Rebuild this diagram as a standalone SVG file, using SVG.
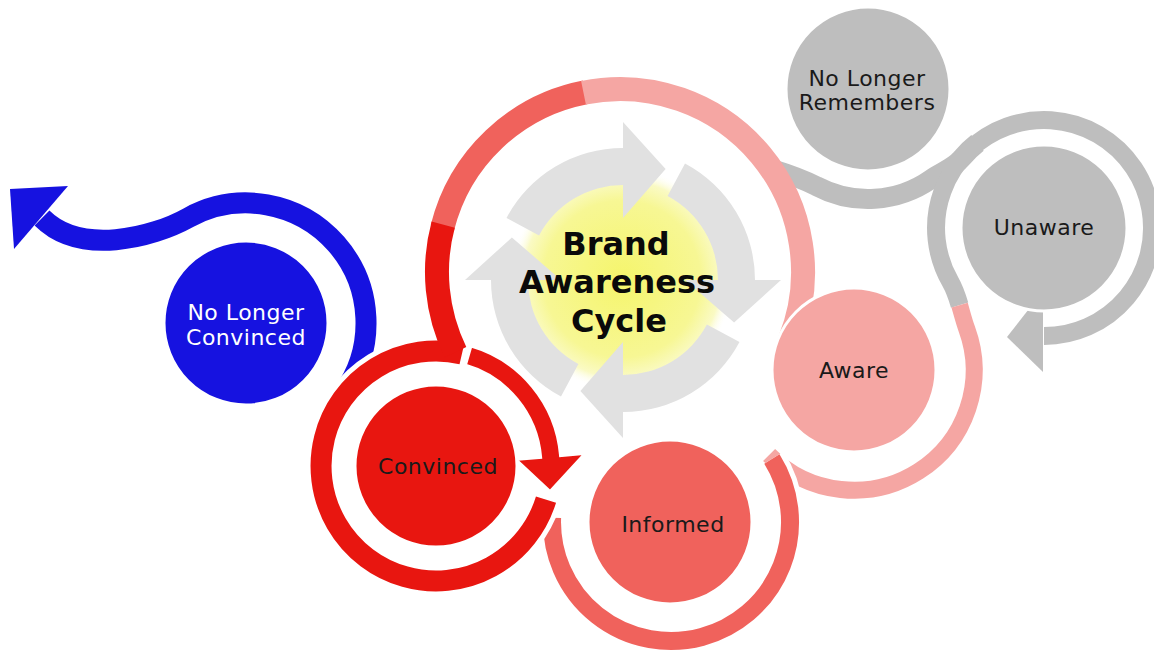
<svg xmlns="http://www.w3.org/2000/svg" width="1154" height="654" viewBox="0 0 1154 654">
  <style>
    .lbl { font-family: "DejaVu Sans", Verdana, sans-serif; font-size: 22px; letter-spacing: 0.5px; text-anchor: middle; fill: #1a1a1a; }
    .lbl.light { fill: #ffffff; }
    .title { font-family: "DejaVu Sans", Verdana, sans-serif; font-size: 32px; font-weight: bold; text-anchor: middle; fill: #0a0a0a; }
    .node { stroke: #ffffff; stroke-width: 3; }
    .band { fill: none; stroke-linecap: butt; }
    .halo { fill: none; stroke: #ffffff; }
    .blue { fill: #1612e0; }
    .red { fill: #e81610; }
    .salmon { fill: #f0625c; }
    .pink { fill: #f5a6a3; }
    .grey { fill: #bebebe; }
    .cyc { fill: #e1e1e1; }
  </style>
  <defs>
    <radialGradient id="glow" cx="622" cy="279" r="112" gradientUnits="userSpaceOnUse">
      <stop offset="0" stop-color="#f5f56c"/>
      <stop offset="0.7" stop-color="#f7f794"/>
      <stop offset="0.88" stop-color="#fafac4"/>
      <stop offset="1" stop-color="#ffffff" stop-opacity="0"/>
    </radialGradient>
    <!-- one curved arrow of the inner cycle; the other three are rotated copies -->
    <path id="cycArrow" d="M 506.5 218.0 A 132 132 0 0 1 623 148 L 623 122 L 665.6 168.9 L 623 218 L 623 185 A 95 95 0 0 0 539.1 235.4 Z"/>
  </defs>

  <rect width="1154" height="654" fill="#ffffff"/>

  <!-- hub: glow, four circular arrows and the title -->
  <g id="hub">
    <circle cx="622" cy="279" r="112" fill="url(#glow)"/>
    <use href="#cycArrow" class="cyc"/>
    <use href="#cycArrow" class="cyc" transform="rotate(90 623 280)"/>
    <use href="#cycArrow" class="cyc" transform="rotate(180 623 280)"/>
    <use href="#cycArrow" class="cyc" transform="rotate(270 623 280)"/>
    <text class="title" x="616" y="255">Brand</text>
    <text class="title" x="617" y="293">Awareness</text>
    <text class="title" x="619" y="332">Cycle</text>
  </g>

  <!-- ring bands linking the stages -->
  <g id="connectors">
    <!-- exit path: around No Longer Convinced and away to the left -->
    <path class="band" stroke="#1612e0" stroke-width="21" d="M 343.1 393.5 A 120 120 0 0 0 188.6 217.6 C 152 238 80 256 42 218"/>
    <polygon class="blue" points="68,186 14,249 10,189"/>

    <!-- under No Longer Remembers, merging into the Unaware ring -->
    <path class="band" stroke="#bebebe" stroke-width="20" d="M 775 170 Q 798 177 816.4 186.1 A 110 110 0 0 0 931.1 179.1 C 940.9 172.2 953.6 167.8 961.3 158.6 A 108 108 0 0 1 977.5 142.9"/>

    <!-- around Unaware, ending in an arrow toward Aware -->
    <path class="band" stroke="#bebebe" stroke-width="18" d="M 959.6 305.1 C 957.2 297.0 954.5 289.0 950.5 282.0 A 108 108 0 1 1 1044 336"/>
    <polygon class="grey" points="1043,291 1043,372 1007,337"/>

    <!-- around Aware, running up into the Unaware ring -->
    <path class="band" stroke="#f5a6a3" stroke-width="17" d="M 769.1 454.9 A 120 120 0 0 0 966.8 329.0 C 964.05 321.5 961.98 313.23 959.6 305.1"/>

    <!-- large ring around the hub -->
    <path class="band" stroke="#f0625c" stroke-width="24" d="M 442.4 227.7 A 183 183 0 0 1 585.1 92.4"/>
    <path class="band" stroke="#f5a6a3" stroke-width="24" d="M 583.5 92.7 A 183 183 0 0 1 789.7 340.6"/>

    <!-- around Informed -->
    <path class="halo" stroke-width="28" d="M 771.9 458.9 A 119 119 0 1 1 552.1 517.8"/>
    <path class="band" stroke="#f0625c" stroke-width="18" d="M 771.9 458.9 A 119 119 0 1 1 552.1 517.8"/>

    <!-- around Convinced -->
    <path class="halo" stroke-width="31" d="M 461.9 353.9 A 115 115 0 1 0 546.0 499.6"/>
    <path class="band" stroke="#e81610" stroke-width="21" d="M 461.9 353.9 A 115 115 0 1 0 546.0 499.6"/>
    <path class="band" stroke="#e81610" stroke-width="24" d="M 455.5 352.2 A 183 183 0 0 1 443.2 224.6"/>
    <path class="red" stroke="#ffffff" stroke-width="4" stroke-linejoin="miter" d="M 470.6 345.4 A 125.5 125.5 0 0 1 561.0 455.1 L 586.4 452.8 L 550.0 492.3 L 514.7 459.1 L 540.1 456.9 A 104.5 104.5 0 0 0 464.8 365.5 Z"/>
  </g>

  <g id="no-longer-convinced">
    <circle class="node blue" cx="246" cy="323" r="82"/>
    <text class="lbl light" x="246" y="320">No Longer</text>
    <text class="lbl light" x="246" y="345">Convinced</text>
  </g>

  <g id="convinced">
    <circle class="node red" cx="436" cy="466" r="81"/>
    <text class="lbl" x="438" y="474">Convinced</text>
  </g>

  <g id="informed">
    <circle class="node salmon" cx="670" cy="522" r="82"/>
    <text class="lbl" x="673" y="532">Informed</text>
  </g>

  <g id="aware">
    <circle class="node pink" cx="854" cy="370" r="82"/>
    <text class="lbl" x="854" y="378">Aware</text>
  </g>

  <g id="unaware">
    <circle class="node grey" cx="1044" cy="228" r="83"/>
    <text class="lbl" x="1044" y="235">Unaware</text>
  </g>

  <g id="no-longer-remembers">
    <circle class="node grey" cx="868" cy="89" r="82"/>
    <text class="lbl" x="867" y="86">No Longer</text>
    <text class="lbl" x="867" y="110">Remembers</text>
  </g>
</svg>
